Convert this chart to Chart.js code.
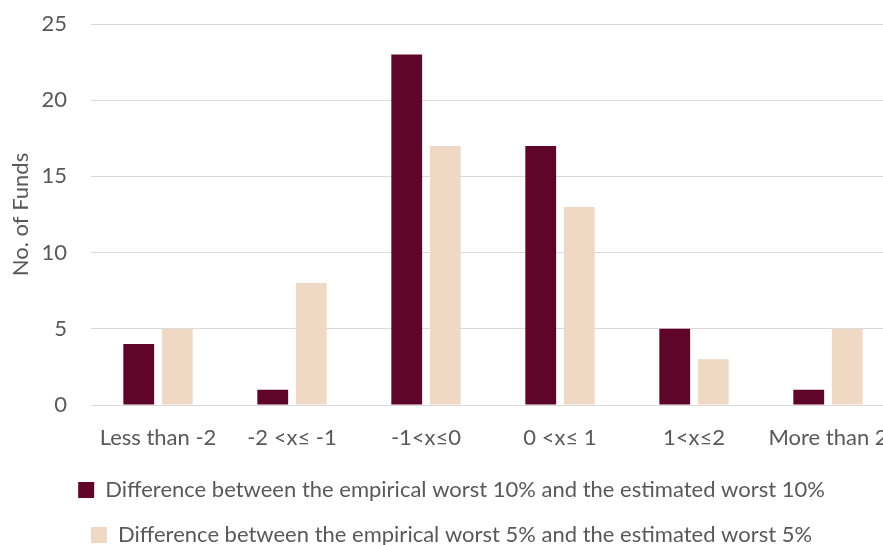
<!DOCTYPE html>
<html>
<head>
<meta charset="utf-8">
<script src="https://cdn.jsdelivr.net/npm/chart.js@4.4.1/dist/chart.umd.min.js"></script>
<style>
  html, body { margin: 0; padding: 0; background: #fff; overflow: hidden; }
  #wrap { position: relative; width: 895px; height: 556px; }
</style>
</head>
<body>
<div id="wrap"><canvas id="fundsChart"></canvas></div>
<script>
// bucket labels along the x axis
const categories = ['Less than -2', '-2 <x\u2264 -1', '-1<x\u22640', '0 <x\u2264 1', '1<x\u22642', 'More than 2'];

const worst10Label = 'Difference between the empirical worst 10% and the estimated worst 10%';
const worst5Label = 'Difference between the empirical worst 5% and the estimated worst 5%';

const worst10 = [4, 1, 23, 17, 5, 1];
const worst5 = [5, 8, 17, 13, 3, 5];

const yTicks = [0, 5, 10, 15, 20, 25];

const textColor = '#595959';
const fontFamily = 'Lato, "Open Sans", sans-serif';

const ctx = document.getElementById('fundsChart');
new Chart(ctx, {
    type: 'bar',
    data: {
        labels: categories,
        datasets: [
            {
                label: worst10Label,
                data: worst10,
                backgroundColor: '#5f0529',
                categoryPercentage: 0.575,
                barPercentage: 0.8
            },
            {
                label: worst5Label,
                data: worst5,
                backgroundColor: '#efd9c5',
                categoryPercentage: 0.575,
                barPercentage: 0.8
            }
        ]
    },
    options: {
        responsive: true,
        maintainAspectRatio: false,
        animation: false,
        layout: { padding: { top: 24, left: 8, right: 0, bottom: 0 } },
        plugins: {
            tooltip: { enabled: false },
            legend: {
                position: 'bottom',
                align: 'center',
                labels: {
                    color: textColor,
                    font: { family: fontFamily, size: 22 },
                    boxWidth: 16,
                    boxHeight: 16,
                    padding: 23
                }
            }
        },
        scales: {
            x: {
                // tick marks hidden, their length only spaces the labels
                grid: { display: false, drawTicks: true, tickLength: 14 },
                border: { color: '#d9d9d9', width: 1 },
                ticks: {
                    color: textColor,
                    font: { family: fontFamily, size: 22 },
                    padding: 6,
                    maxRotation: 0,
                    autoSkip: false
                },
                afterFit: scale => { scale.height = 51; }
            },
            y: {
                min: 0,
                max: 25,
                afterBuildTicks: axis => { axis.ticks = yTicks.map(v => ({ value: v })); },
                grid: { color: '#d9d9d9', drawTicks: true, tickLength: 20, tickColor: 'rgba(0,0,0,0)' },
                border: { display: false },
                ticks: {
                    color: textColor,
                    font: { family: fontFamily, size: 22 },
                    padding: 4
                },
                title: {
                    display: true,
                    text: 'No. of Funds',
                    color: textColor,
                    font: { family: fontFamily, size: 22 },
                    padding: { top: 0, bottom: 4 }
                },
                afterFit: scale => { scale.width = 83; }
            }
        }
    }
});
</script>
</body>
</html>
